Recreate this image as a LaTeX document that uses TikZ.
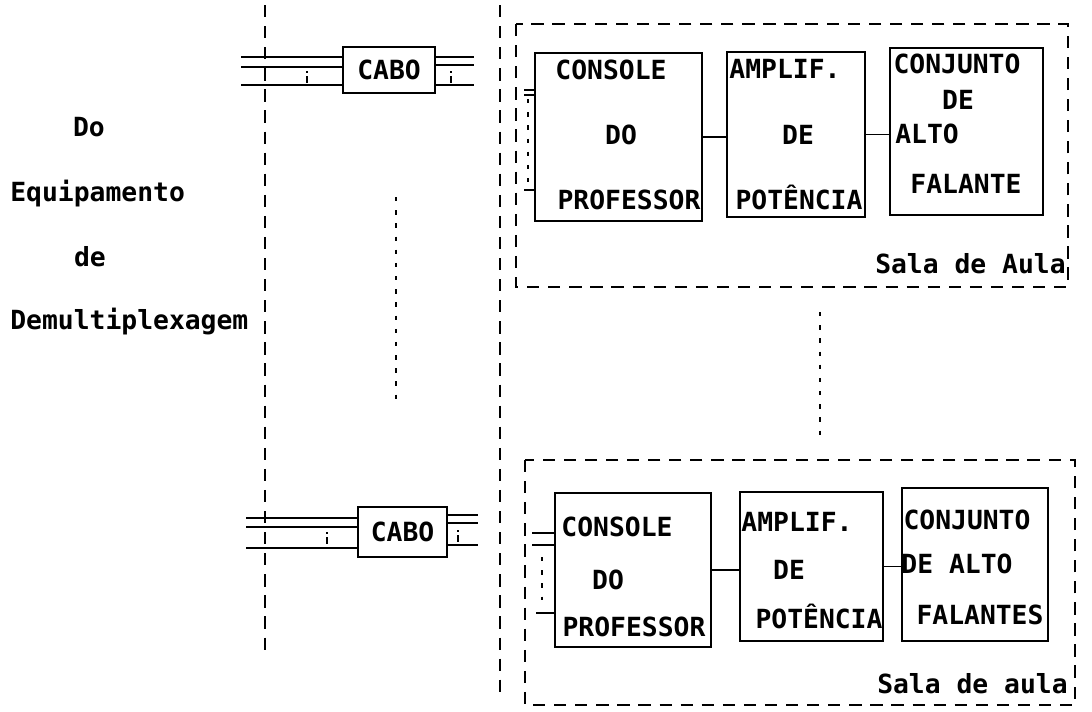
\documentclass[tikz,border=0pt]{standalone}
\usepackage{fontspec}
\usepackage{tikz}
\usetikzlibrary{positioning, calc}
\newfontfamily\typefont{DejaVu Sans Mono}

\begin{document}
\begin{tikzpicture}[
  x=0.02cm, y=-0.02cm,
  every node/.style={font=\typefont\bfseries\fontsize{15}{18}\selectfont},
  blk/.style={draw, line width=1.4pt, inner sep=0pt},
  txt/.style={inner sep=0pt, text height=0.73em, text depth=0pt},
  room/.style={line width=1.2pt, dash pattern=on 7pt off 5pt},
  dots/.style={line width=1.2pt, dash pattern=on 2.5pt off 5pt},
  tick/.style={line width=1pt, dash pattern=on 1.2pt off 1.8pt on 4pt off 10pt},
  wire/.style={line width=1.1pt},
  ar/.style={line width=1.6pt}
]
\useasboundingbox (0,0) rectangle (1092,711);

% Source label
\node[txt] (do) at (89,130) {Do};
\node[txt, anchor=west] (equip) at (10,195) {Equipamento};
\node[txt] (de) at (90,260) {de};
\node[txt, anchor=west] (demux) at (10,323) {Demultiplexagem};

% Boundaries
\coordinate (bndAtop) at (265,5);
\coordinate (bndAbot) at (265,650);
\coordinate (bndBtop) at (500,5);
\coordinate (bndBbot) at (500,695);
\draw[room] (bndAtop) -- (bndAbot);
\draw[room] (bndBtop) -- (bndBbot);
\coordinate (gapAtop) at (396,197);
\coordinate (gapAbot) at (396,402);
\draw[dots] (gapAtop) -- (gapAbot);

% Cables
\node[blk, minimum width=1.84cm, minimum height=0.92cm] (cabo1) at (389,70) {CABO};
\node[blk, minimum width=1.78cm, minimum height=1.0cm] (cabo2) at (402.5,532) {CABO};
\foreach \dy in {-13,-3,15} \draw[wire] (cabo1.west) ++(0,\dy) -- ++(-101,0);
\foreach \dy in {-13,-5,15} \draw[wire] (cabo1.east) ++(0,\dy) -- ++(38,0);
\draw[tick] ($(cabo1.west)+(-35,1)$) -- ++(0,12);
\draw[tick] ($(cabo1.east)+(15,1)$) -- ++(0,12);
\foreach \dy in {-14,-5,16} \draw[wire] (cabo2.west) ++(0,\dy) -- ++(-111,0);
\foreach \dy in {-17,-9,13} \draw[wire] (cabo2.east) ++(0,\dy) -- ++(30,0);
\draw[tick] ($(cabo2.west)+(-30,0)$) -- ++(0,13);
\draw[tick] ($(cabo2.east)+(10,-2)$) -- ++(0,13);

% Sala de Aula (top)
\coordinate (sala1nw) at (516,24);
\coordinate (sala1se) at (1068,287);
\draw[room] (sala1nw) rectangle (sala1se);
\node[blk, minimum width=3.34cm, minimum height=3.36cm] (cons1) at (618.5,137) {};
\node[blk, minimum width=2.76cm, minimum height=3.30cm] (amp1) at (796,134.5) {};
\node[blk, minimum width=3.06cm, minimum height=3.34cm] (conj1) at (966.5,131.5) {};
\node[txt] (cons1a) at (611,73) {CONSOLE};
\node[txt] (cons1b) at (621,138) {DO};
\node[txt] (cons1c) at (629,203) {PROFESSOR};
\node[txt] (amp1a) at (785,72) {AMPLIF.};
\node[txt] (amp1b) at (798,138) {DE};
\node[txt] (amp1c) at (799,203) {POTÊNCIA};
\node[txt] (conj1a) at (957,67) {CONJUNTO};
\node[txt] (conj1b) at (958,103) {DE};
\node[txt] (conj1c) at (927,137) {ALTO};
\node[txt] (conj1d) at (966,187) {FALANTE};
\node[txt, anchor=east] (sala1) at (1066,267) {Sala de Aula};
\draw[ar] (cons1.east) -- (cons1.east -| amp1.west);
\draw[wire] (amp1.east) -- (amp1.east -| conj1.west);
\foreach \dy in {-47,-42,53} \draw[wire] (cons1.west) ++(0,\dy) -- ++(-10,0);
\draw[dots] ($(cons1.west)+(-6,-38)$) -- ++(0,85);

% between rooms
\coordinate (gapBtop) at (820,312);
\coordinate (gapBbot) at (820,440);
\draw[dots] (gapBtop) -- (gapBbot);

% Sala de aula (bottom)
\coordinate (sala2nw) at (525,460);
\coordinate (sala2se) at (1075,705);
\draw[room] (sala2nw) rectangle (sala2se);
\node[blk, minimum width=3.12cm, minimum height=3.08cm] (cons2) at (633,570) {};
\node[blk, minimum width=2.86cm, minimum height=2.98cm] (amp2) at (811.5,566.5) {};
\node[blk, minimum width=2.92cm, minimum height=3.06cm] (conj2) at (975,564.5) {};
\node[txt] (cons2a) at (617,530) {CONSOLE};
\node[txt] (cons2b) at (608,583) {DO};
\node[txt] (cons2c) at (634,630) {PROFESSOR};
\node[txt] (amp2a) at (797,525) {AMPLIF.};
\node[txt] (amp2b) at (789,573) {DE};
\node[txt] (amp2c) at (819,622) {POTÊNCIA};
\node[txt] (conj2a) at (967,523) {CONJUNTO};
\node[txt] (conj2b) at (957,567) {DE ALTO};
\node[txt] (conj2c) at (980,618) {FALANTES};
\node[txt, anchor=east] (sala2) at (1068,687) {Sala de aula};
\draw[ar] (cons2.east) -- (cons2.east -| amp2.west);
\draw[wire] (amp2.east) -- (amp2.east -| conj2.west);
\foreach \dy/\len in {-37/-22,-25/-22,43/-18} \draw[wire] (cons2.west) ++(0,\dy) -- ++(\len,0);
\draw[dots] ($(cons2.west)+(-12,-13)$) -- ++(0,43);
\end{tikzpicture}
\end{document}
